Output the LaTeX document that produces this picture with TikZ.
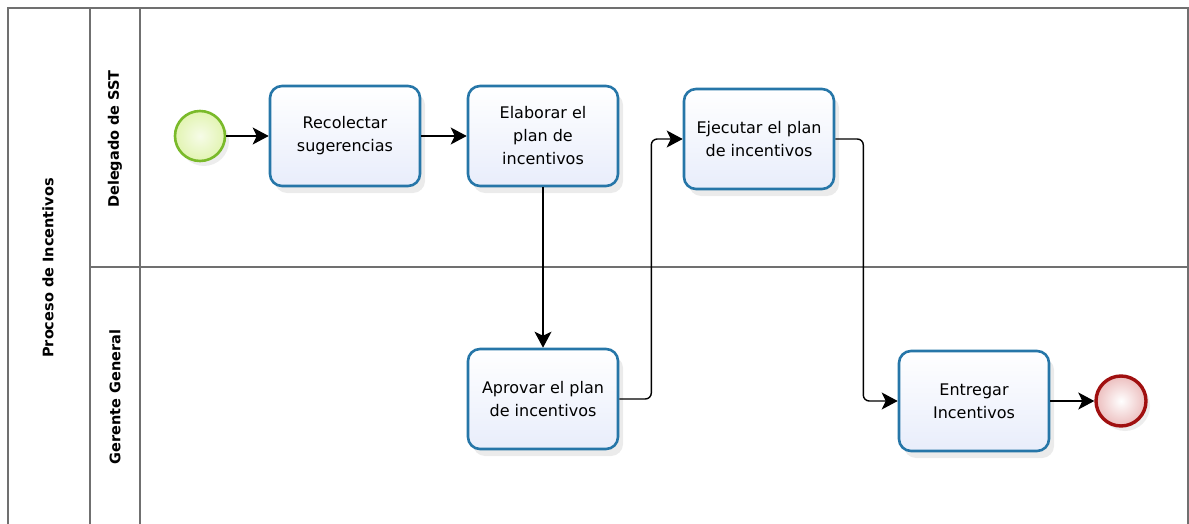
\documentclass[tikz,border=0pt]{standalone}
\usepackage{fontspec}
\setmainfont{DejaVu Sans}
\usetikzlibrary{arrows.meta,positioning,shadows}

\definecolor{taskline}{RGB}{38,118,168}
\definecolor{taskfill}{RGB}{232,237,251}
\definecolor{startline}{RGB}{122,186,42}
\definecolor{startfill}{RGB}{226,244,178}
\definecolor{endline}{RGB}{160,16,16}
\definecolor{endfill}{RGB}{236,190,190}
\definecolor{poolline}{RGB}{112,112,112}

\begin{document}
\begin{tikzpicture}[
  x=1pt, y=-1pt, >=Stealth,
  every node/.style={font=\fontsize{16}{23}\selectfont},
  task/.style={draw=taskline, line width=2.6pt, rounded corners=12pt,
    minimum width=150pt, minimum height=100pt, align=center,
    top color=white, bottom color=taskfill,
    drop shadow={shadow xshift=5pt, shadow yshift=-7pt, opacity=0.16}},
  startev/.style={circle, draw=startline, line width=2.6pt,
    minimum size=50pt, inner color=white!70!startfill, outer color=startfill,
    drop shadow={shadow xshift=4pt, shadow yshift=-5pt, opacity=0.14}},
  endev/.style={circle, draw=endline, line width=3.4pt,
    minimum size=50pt, inner color=white, outer color=endfill,
    drop shadow={shadow xshift=4pt, shadow yshift=-5pt, opacity=0.14}},
  flow/.style={->, line width=1.4pt, >={Stealth[length=16pt, width=17pt, inset=4pt]}},
  lanelabel/.style={rotate=90, font=\bfseries\fontsize{14.5}{16}\selectfont},
]
\useasboundingbox (0,0) rectangle (1189,524);

% pool and lanes
\draw[poolline, line width=1.6pt] (8,540) -- (8,8) -- (1188,8) -- (1188,540);
\draw[poolline, line width=1.2pt] (90,8) -- (90,540);
\draw[poolline, line width=1.2pt] (140,8) -- (140,540);
\draw[poolline, line width=1.2pt] (90,267) -- (1188,267);
\node[lanelabel] (pool) at (48,268) {Proceso de Incentivos};
\node[lanelabel] (ln1) at (115,139) {Delegado de SST};
\node[lanelabel] (ln2) at (115,397) {Gerente General};

% events and tasks
\node[startev] (S) at (200,136) {};
\node[task] (Rec) at (345,136) {Recolectar\\sugerencias};
\node[task] (Ela) at (543,136) {Elaborar el\\plan de\\incentivos};
\node[task] (Eje) at (759,139) {Ejecutar el plan\\de incentivos};
\node[task] (Apr) at (543,399) {Aprovar el plan\\de incentivos};
\node[task] (Ent) at (974,401) {Entregar\\Incentivos};
\node[endev] (E) at (1121,401) {};

% sequence flows
\draw[flow] (S) -- (Rec);
\draw[flow] (Rec) -- (Ela);
\draw[flow] (Ela) -- (Apr);
\draw[flow, rounded corners=6pt] (Apr.east) -- ++(32,0) |- (Eje.west);
\draw[flow, rounded corners=6pt] (Eje.east) -- ++(28,0) |- (Ent.west);
\draw[flow] (Ent) -- (E);
\end{tikzpicture}
\end{document}
